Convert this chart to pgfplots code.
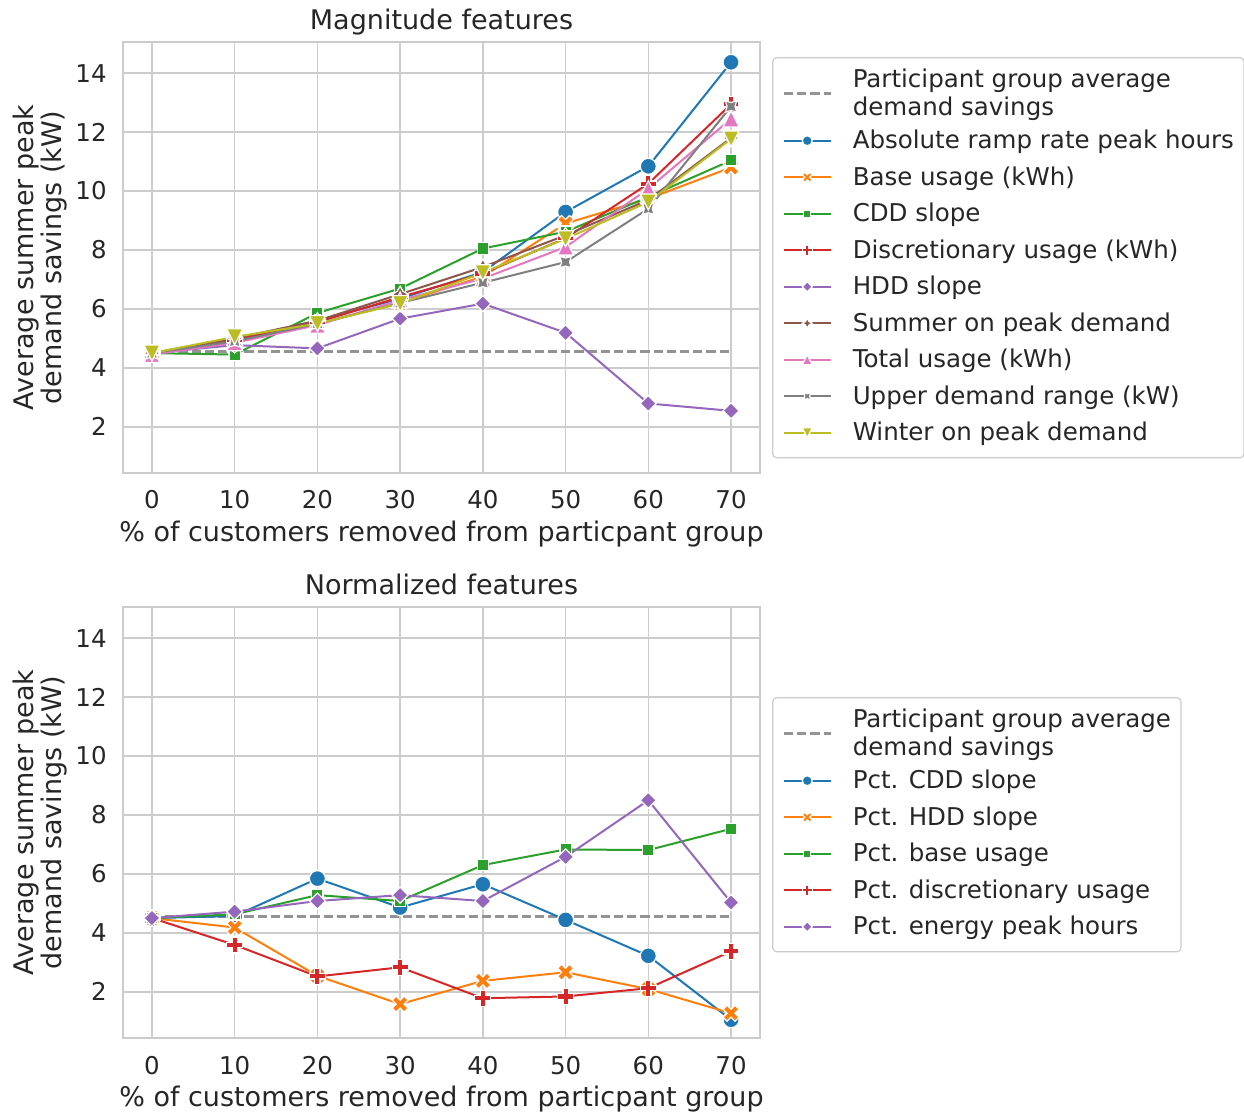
\documentclass[border=0pt]{standalone}
\usepackage{fontspec}
\setmainfont{DejaVu Sans}
\usepackage{pgfplots}
\pgfplotsset{compat=1.18}
\definecolor{c0}{HTML}{1F77B4}
\definecolor{c1}{HTML}{FF7F0E}
\definecolor{c2}{HTML}{2CA02C}
\definecolor{c3}{HTML}{D62728}
\definecolor{c4}{HTML}{9467BD}
\definecolor{c5}{HTML}{8C564B}
\definecolor{c6}{HTML}{E377C2}
\definecolor{c7}{HTML}{7F7F7F}
\definecolor{c8}{HTML}{BCBD22}
\definecolor{gridc}{HTML}{CCCCCC}
\definecolor{textc}{HTML}{262626}
\definecolor{dashc}{HTML}{939393}
\newcommand{\fs}{\fontsize{12.25}{14.2}\selectfont}
\newcommand{\fl}{\fontsize{13.5}{14}\selectfont}
\newcommand{\mpt}[2]{\pgfpoint{#1\pgfplotmarksize}{#2\pgfplotmarksize}}
\pgfdeclareplotmark{Pf}{%
 \pgfpathmoveto{\mpt{-0.3333}{-1}}\pgfpathlineto{\mpt{-0.3333}{-0.3333}}%
 \pgfpathlineto{\mpt{-1}{-0.3333}}\pgfpathlineto{\mpt{-1}{0.3333}}%
 \pgfpathlineto{\mpt{-0.3333}{0.3333}}\pgfpathlineto{\mpt{-0.3333}{1}}%
 \pgfpathlineto{\mpt{0.3333}{1}}\pgfpathlineto{\mpt{0.3333}{0.3333}}%
 \pgfpathlineto{\mpt{1}{0.3333}}\pgfpathlineto{\mpt{1}{-0.3333}}%
 \pgfpathlineto{\mpt{0.3333}{-0.3333}}\pgfpathlineto{\mpt{0.3333}{-1}}%
 \pgfpathclose\pgfusepathqfillstroke}
\pgfdeclareplotmark{Xf}{%
 \pgfpathmoveto{\mpt{-0.5}{-1}}\pgfpathlineto{\mpt{0}{-0.5}}%
 \pgfpathlineto{\mpt{0.5}{-1}}\pgfpathlineto{\mpt{1}{-0.5}}%
 \pgfpathlineto{\mpt{0.5}{0}}\pgfpathlineto{\mpt{1}{0.5}}%
 \pgfpathlineto{\mpt{0.5}{1}}\pgfpathlineto{\mpt{0}{0.5}}%
 \pgfpathlineto{\mpt{-0.5}{1}}\pgfpathlineto{\mpt{-1}{0.5}}%
 \pgfpathlineto{\mpt{-0.5}{0}}\pgfpathlineto{\mpt{-1}{-0.5}}%
 \pgfpathclose\pgfusepathqfillstroke}
\pgfdeclareplotmark{St}{%
 \pgfpathmoveto{\mpt{0}{1}}\pgfpathlineto{\mpt{-0.3536}{0.3536}}%
 \pgfpathlineto{\mpt{-1}{0}}\pgfpathlineto{\mpt{-0.3536}{-0.3536}}%
 \pgfpathlineto{\mpt{0}{-1}}\pgfpathlineto{\mpt{0.3536}{-0.3536}}%
 \pgfpathlineto{\mpt{1}{0}}\pgfpathlineto{\mpt{0.3536}{0.3536}}%
 \pgfpathclose\pgfusepathqfillstroke}
\pgfdeclareplotmark{Sx}{%
 \pgfpathmoveto{\mpt{-0.7071}{0.7071}}\pgfpathlineto{\mpt{-0.5}{0}}%
 \pgfpathlineto{\mpt{-0.7071}{-0.7071}}\pgfpathlineto{\mpt{0}{-0.5}}%
 \pgfpathlineto{\mpt{0.7071}{-0.7071}}\pgfpathlineto{\mpt{0.5}{0}}%
 \pgfpathlineto{\mpt{0.7071}{0.7071}}\pgfpathlineto{\mpt{0}{0.5}}%
 \pgfpathclose\pgfusepathqfillstroke}
\pgfdeclareplotmark{Dm}{%
 \pgfpathmoveto{\mpt{0}{1}}\pgfpathlineto{\mpt{-1}{0}}%
 \pgfpathlineto{\mpt{0}{-1}}\pgfpathlineto{\mpt{1}{0}}%
 \pgfpathclose\pgfusepathqfillstroke}
\pgfdeclareplotmark{Sq}{%
 \pgfpathmoveto{\mpt{-0.7071}{-0.7071}}\pgfpathlineto{\mpt{-0.7071}{0.7071}}%
 \pgfpathlineto{\mpt{0.7071}{0.7071}}\pgfpathlineto{\mpt{0.7071}{-0.7071}}%
 \pgfpathclose\pgfusepathqfillstroke}
\pgfdeclareplotmark{Tu}{%
 \pgfpathmoveto{\mpt{0}{1}}\pgfpathlineto{\mpt{-1}{-1}}%
 \pgfpathlineto{\mpt{1}{-1}}\pgfpathclose\pgfusepathqfillstroke}
\pgfdeclareplotmark{Td}{%
 \pgfpathmoveto{\mpt{0}{-1}}\pgfpathlineto{\mpt{-1}{1}}%
 \pgfpathlineto{\mpt{1}{1}}\pgfpathclose\pgfusepathqfillstroke}
\pgfplotsset{
 ser/.style 2 args={color=#1, line width=1pt, solid, mark=#2, mark size=4pt,
   mark options={draw=white, fill=#1, line width=0.6pt, solid}},
 avg/.style={color=dashc, line width=1.2pt, dash pattern=on 4.6pt off 2pt, no marks},
 base/.style={
  scale only axis, width=318.5pt, height=215.5pt,
  xmin=-3.5, xmax=73.5, ymin=0.43, ymax=15.06,
  xtick={0,10,...,70}, ytick={2,4,...,14},
  grid=major, grid style={color=gridc, line width=0.8pt},
  axis line style={color=gridc, line width=0.8pt},
  major tick length=0pt,
  /pgf/number format/assume math mode=true,
  every tick label/.append style={font=\fs, text=textc},
  xticklabel style={anchor=base, inner sep=0pt, yshift=-18pt},
  yticklabel style={anchor=east, inner sep=0pt, xshift=-8pt},
  title style={at={(0.5,1.0)}, anchor=base, yshift=0pt, font=\fl, text=textc},
  xlabel={\% of customers removed from particpant group},
  xlabel style={at={(axis description cs:0.5,-0.1578)}, anchor=base, yshift=0pt, font=\fl, text=textc},
  ylabel={Average summer peak\\demand savings (kW)},
  ylabel style={at={(axis description cs:-0.1302,0.5)}, anchor=center, rotate=0, align=center, font=\fl, text=textc},
  legend cell align=left,
  legend image code/.code={\draw[mark repeat=2,mark phase=2,##1, every mark/.append style={scale=0.62}] plot coordinates {(0cm,0cm) (0.41cm,0cm) (0.82cm,0cm)};},
  legend style={anchor=north west, draw=gridc, line width=0.6pt, rounded corners=2pt, fill=white,
    font=\fs, text=textc, row sep=0pt, column sep=10.5pt, inner xsep=5pt, inner ysep=3.4pt,
    nodes={inner sep=0pt, minimum height=18.25pt, align=left}},
 }
}
\begin{document}
\begin{tikzpicture}
\useasboundingbox (0pt,0pt) rectangle (622pt,-556pt);
\begin{axis}[base, at={(61.5pt,-236.5pt)}, anchor=south west, title={Magnitude features},
  legend style={at={(1.019,0.965)}}]
\addplot[avg] coordinates {(0,4.56) (70,4.56)};
\addlegendentry[minimum height=29pt]{Participant group average\\demand savings}
\addplot[ser={c0}{*}] coordinates {(0,4.5) (10,4.95) (20,5.6) (30,6.35) (40,7.25) (50,9.29) (60,10.84) (70,14.37)};
\addlegendentry{Absolute ramp rate peak hours}
\addplot[ser={c1}{Xf}] coordinates {(0,4.5) (10,4.9) (20,5.5) (30,6.2) (40,7.1) (50,8.9) (60,9.74) (70,10.8)};
\addlegendentry{Base usage (kWh)}
\addplot[ser={c2}{Sq}] coordinates {(0,4.5) (10,4.45) (20,5.86) (30,6.69) (40,8.05) (50,8.62) (60,9.8) (70,11.04)};
\addlegendentry{CDD slope}
\addplot[ser={c3}{Pf}] coordinates {(0,4.5) (10,4.95) (20,5.55) (30,6.4) (40,7.2) (50,8.4) (60,10.25) (70,12.95)};
\addlegendentry{Discretionary usage (kWh)}
\addplot[ser={c4}{Dm}] coordinates {(0,4.5) (10,4.77) (20,4.66) (30,5.67) (40,6.18) (50,5.19) (60,2.79) (70,2.54)};
\addlegendentry{HDD slope}
\addplot[ser={c5}{St}] coordinates {(0,4.5) (10,5.0) (20,5.6) (30,6.5) (40,7.42) (50,8.5) (60,9.7) (70,11.8)};
\addlegendentry{Summer on peak demand}
\addplot[ser={c6}{Tu}] coordinates {(0,4.45) (10,4.85) (20,5.45) (30,6.3) (40,7.03) (50,8.1) (60,10.08) (70,12.45)};
\addlegendentry{Total usage (kWh)}
\addplot[ser={c7}{Sx}] coordinates {(0,4.5) (10,4.9) (20,5.5) (30,6.2) (40,6.89) (50,7.59) (60,9.4) (70,12.87)};
\addlegendentry{Upper demand range (kW)}
\addplot[ser={c8}{Td}] coordinates {(0,4.5) (10,5.05) (20,5.5) (30,6.18) (40,7.23) (50,8.38) (60,9.63) (70,11.77)};
\addlegendentry{Winter on peak demand}
\end{axis}
\begin{axis}[base, at={(61.5pt,-519pt)}, anchor=south west, title={Normalized features},
  legend style={at={(1.019,0.791)}}]
\addplot[avg] coordinates {(0,4.56) (70,4.56)};
\addlegendentry[minimum height=29pt]{Participant group average\\demand savings}
\addplot[ser={c0}{*}] coordinates {(0,4.5) (10,4.57) (20,5.84) (30,4.86) (40,5.65) (50,4.44) (60,3.22) (70,1.05)};
\addlegendentry{Pct. CDD slope}
\addplot[ser={c1}{Xf}] coordinates {(0,4.5) (10,4.18) (20,2.54) (30,1.58) (40,2.37) (50,2.66) (60,2.09) (70,1.27)};
\addlegendentry{Pct. HDD slope}
\addplot[ser={c2}{Sq}] coordinates {(0,4.5) (10,4.63) (20,5.28) (30,5.08) (40,6.30) (50,6.83) (60,6.81) (70,7.53)};
\addlegendentry{Pct. base usage}
\addplot[ser={c3}{Pf}] coordinates {(0,4.5) (10,3.59) (20,2.52) (30,2.83) (40,1.78) (50,1.84) (60,2.12) (70,3.37)};
\addlegendentry{Pct. discretionary usage}
\addplot[ser={c4}{Dm}] coordinates {(0,4.5) (10,4.72) (20,5.08) (30,5.28) (40,5.08) (50,6.58) (60,8.50) (70,5.03)};
\addlegendentry{Pct. energy peak hours}
\end{axis}
\end{tikzpicture}
\end{document}
